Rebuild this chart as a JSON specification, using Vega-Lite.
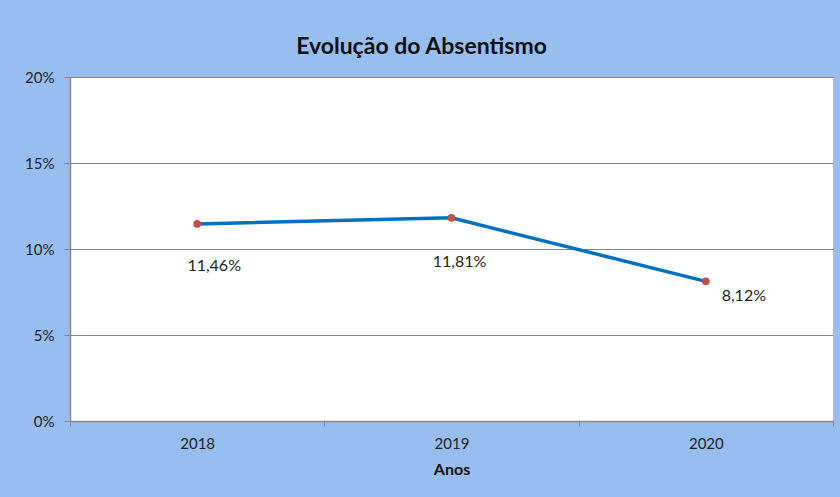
{
  "$schema": "https://vega.github.io/schema/vega-lite/v6.json",
  "autosize": {"type": "none"},
  "padding": {"left": 70, "top": 77, "right": 7, "bottom": 76},
  "width": 763,
  "height": 344,
  "background": "#98BEEF",
  "title": {
    "text": "Evolução do Absentismo",
    "font": "Lato",
    "fontSize": 23,
    "fontWeight": "bold",
    "color": "#111111",
    "anchor": "middle",
    "dx": -30,
    "offset": 11
  },
  "data": {
    "values": [
      {"ano": "2018", "valor": 0.1146, "rotulo": "11,46%"},
      {"ano": "2019", "valor": 0.1181, "rotulo": "11,81%"},
      {"ano": "2020", "valor": 0.0812, "rotulo": "8,12%"}
    ]
  },
  "encoding": {
    "x": {
      "field": "ano",
      "type": "ordinal",
      "title": "Anos",
      "scale": {"paddingInner": 0, "paddingOuter": 0},
      "axis": {
        "labelAngle": 0,
        "tickBand": "extent",
        "tickSize": 5,
        "tickColor": "#888888",
        "domainColor": "#888888",
        "domainWidth": 1.5,
        "labelPadding": 10,
        "labelFont": "Lato",
        "labelFontSize": 15,
        "labelColor": "#222222",
        "titleFont": "Lato",
        "titleFontSize": 16,
        "titleFontWeight": "bold",
        "titleColor": "#111111",
        "titlePadding": 10
      }
    },
    "y": {
      "field": "valor",
      "type": "quantitative",
      "title": null,
      "scale": {"domain": [0, 0.2], "nice": false},
      "axis": {
        "values": [0, 0.05, 0.1, 0.15, 0.2],
        "format": ".0%",
        "tickSize": 6,
        "tickColor": "#888888",
        "domainColor": "#888888",
        "domainWidth": 1.5,
        "gridColor": "#868686",
        "gridWidth": 1.2,
        "gridOpacity": 1,
        "labelPadding": 10,
        "labelFont": "Lato",
        "labelFontSize": 15,
        "labelColor": "#222222"
      }
    }
  },
  "layer": [
    {"mark": {"type": "line", "color": "#0070C0", "strokeWidth": 3.5}},
    {"mark": {"type": "point", "filled": true, "color": "#C0504D", "size": 60, "opacity": 1}},
    {
      "transform": [{"filter": "datum.ano == '2018'"}],
      "mark": {"type": "text", "font": "Lato", "fontSize": 16, "color": "#222222", "align": "center", "baseline": "middle", "dx": 17, "dy": 42},
      "encoding": {"text": {"field": "rotulo"}}
    },
    {
      "transform": [{"filter": "datum.ano == '2019'"}],
      "mark": {"type": "text", "font": "Lato", "fontSize": 16, "color": "#222222", "align": "center", "baseline": "middle", "dx": 8, "dy": 44},
      "encoding": {"text": {"field": "rotulo"}}
    },
    {
      "transform": [{"filter": "datum.ano == '2020'"}],
      "mark": {"type": "text", "font": "Lato", "fontSize": 16, "color": "#222222", "align": "center", "baseline": "middle", "dx": 38, "dy": 15},
      "encoding": {"text": {"field": "rotulo"}}
    }
  ],
  "config": {
    "view": {"fill": "white", "stroke": "#BBBBBB"}
  }
}
